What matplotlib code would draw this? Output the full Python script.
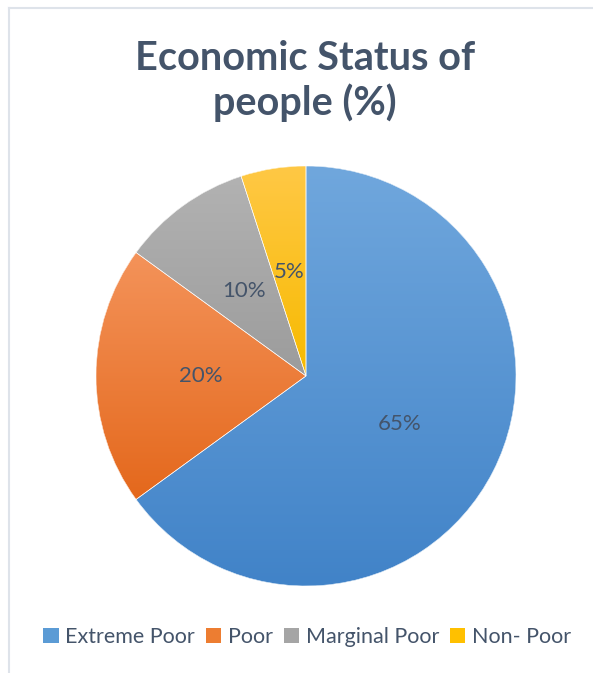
import numpy as np
import matplotlib.pyplot as plt
from matplotlib.colors import LinearSegmentedColormap
from matplotlib.patches import Patch, Wedge
from matplotlib.lines import Line2D

categories = ['Extreme Poor', 'Poor', 'Marginal Poor', 'Non- Poor']
shares = [65, 20, 10, 5]
top_colors = ['#70A7DD', '#F4935A', '#B2B2B2', '#FFC845']
bottom_colors = ['#4183C8', '#E4681C', '#9C9C9C', '#F7BA00']
flat_colors = ['#5B9BD5', '#ED7D31', '#A5A5A5', '#FFC000']

TEXT = '#44546A'
plt.rcParams['font.family'] = ['Lato', 'DejaVu Sans']

fig = plt.figure(figsize=(5.93, 6.73), dpi=100)

# light frame of the chart area (left and top edges visible)
fig.add_artist(Line2D([8.5 / 593, 8.5 / 593], [0, 1 - 8 / 673], color='#DEE3EA', lw=1.5))
fig.add_artist(Line2D([8.5 / 593, 1], [1 - 8 / 673, 1 - 8 / 673], color='#DEE3EA', lw=1.5))

fig.text(0.514, 1 - 81 / 673, 'Economic Status of\npeople (%)', ha='center', va='center',
         fontsize=28.5, fontweight='bold', color=TEXT, linespacing=1.2)

ax = fig.add_axes([96 / 593, 87 / 673, 420 / 593, 420 / 673])
wedges, texts, autotexts = ax.pie(shares, colors=flat_colors, startangle=90, counterclock=False,
                                  autopct='%1.0f%%', pctdistance=0.5,
                                  wedgeprops=dict(edgecolor='none'),
                                  textprops=dict(color=TEXT, fontsize=16))

# Excel-like vertical gradient inside each slice
for w, c_top, c_bot in zip(wedges, top_colors, bottom_colors):
    ext = w.get_path().get_extents(w.get_patch_transform())
    cmap = LinearSegmentedColormap.from_list('g', [c_bot, c_top])
    grad = np.linspace(0, 1, 256).reshape(-1, 1)
    im = ax.imshow(grad, cmap=cmap, origin='lower', aspect='auto',
                   extent=[ext.x0, ext.x1, ext.y0, ext.y1], zorder=w.get_zorder() + 0.1)
    im.set_clip_path(w)
for w in wedges:
    ax.add_patch(Wedge((0, 0), 1, w.theta1, w.theta2, facecolor='none',
                       edgecolor='white', linewidth=0.4, zorder=3))
for t in autotexts:
    t.set_zorder(5)
ax.set_xlim(-1, 1)
ax.set_ylim(-1, 1)
ax.set_aspect('equal')
ax.axis('off')

handles = [Patch(facecolor=c, edgecolor='none') for c in flat_colors]
fig.legend(handles, categories, loc='center', bbox_to_anchor=(0.518, 1 - 637 / 673), ncol=4,
           frameon=False, fontsize=15.5, labelcolor=TEXT, handlelength=0.72, handleheight=0.72,
           handletextpad=0.3, columnspacing=0.5)

fig.savefig('out.png', dpi=100, facecolor='white')
